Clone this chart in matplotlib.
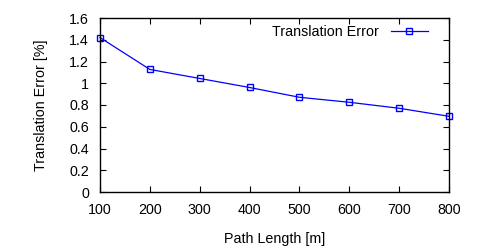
import matplotlib
matplotlib.use("Agg")
import matplotlib.pyplot as plt

path_length = [100, 200, 300, 400, 500, 600, 700, 800]
trans_error = [1.42, 1.127, 1.044, 0.961, 0.871, 0.825, 0.77, 0.696]
yticks = [0, 0.2, 0.4, 0.6, 0.8, 1, 1.2, 1.4, 1.6]
ytick_labels = ["0", "0.2", "0.4", "0.6", "0.8", "1", "1.2", "1.4", "1.6"]

plt.rcParams['font.family'] = ['Liberation Sans', 'DejaVu Sans']
fs = 10.3
fig = plt.figure(figsize=(5, 2.5), dpi=100)
ax = fig.add_axes([0.2, 0.232, 0.698, 0.696])
ax.plot(path_length, trans_error, color='#0000ff', lw=0.9, marker='s', ms=5,
        mfc='none', mec='#0000ff', mew=1.0, label='Translation Error', clip_on=False)
ax.set_xlim(100, 800)
ax.set_ylim(0, 1.6)
ax.set_xticks(path_length)
ax.set_yticks(yticks)
ax.set_yticklabels(ytick_labels)
ax.tick_params(direction='in', top=True, right=True, labelsize=fs, length=4, width=0.8, pad=8)
for s in ax.spines.values():
    s.set_linewidth(1.0)
ax.set_xlabel('Path Length [m]', fontsize=fs, labelpad=11)
ax.set_ylabel('Translation Error [%]', fontsize=fs, labelpad=15)
ax.legend(loc='upper right', frameon=False, markerfirst=False, fontsize=fs,
          handlelength=2.6, borderaxespad=0.1, bbox_to_anchor=(0.96, 1.0))
fig.savefig('out.png', dpi=100)
